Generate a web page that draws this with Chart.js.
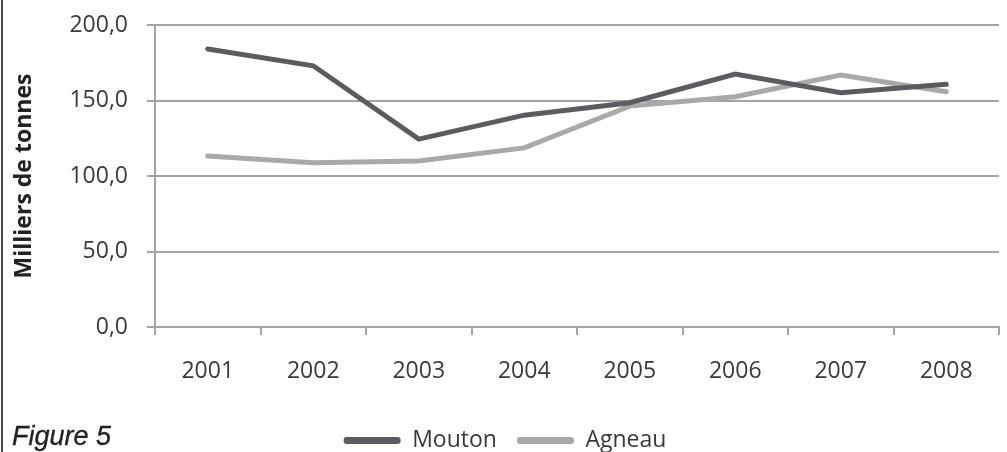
<!DOCTYPE html>
<html>
<head>
<meta charset="utf-8">
<script src="https://cdn.jsdelivr.net/npm/chart.js@4.4.1/dist/chart.umd.min.js"></script>
<style>
  html, body { margin: 0; padding: 0; background: #fff; }
  #wrap { position: relative; width: 1007px; height: 452px; overflow: hidden; }
  #frame { position: absolute; left: 1px; top: 0; width: 2px; height: 452px; background: #4a4a4a; }
  #fig { position: absolute; left: 12px; top: 421px; font-family: "Liberation Sans", Arial, sans-serif; font-style: italic; font-size: 27px; color: #222; line-height: 30px; -webkit-text-stroke: 0.3px #222; }
  canvas { position: absolute; left: 0; top: 0; }
</style>
</head>
<body>
<div id="wrap">
  <canvas id="c" width="1007" height="452"></canvas>
  <div id="frame"></div>
  <div id="fig">Figure 5</div>
</div>
<script>
const years = ['2001', '2002', '2003', '2004', '2005', '2006', '2007', '2008'];
const mouton = [184.1, 173.0, 124.4, 140.3, 148.5, 167.5, 155.2, 160.7];
const agneau = [113.2, 108.7, 110.0, 118.6, 146.3, 152.5, 166.8, 155.8];
const yTickValues = [0, 50, 100, 150, 200];
const yTickLabels = ['0,0', '50,0', '100,0', '150,0', '200,0'];
const yTitle = 'Milliers de tonnes';

Chart.defaults.font.family = '"Open Sans", "Noto Sans", sans-serif';
Chart.defaults.color = '#3a3a3a';

const gridColor = '#a3a3a3';
const FS = 23;

new Chart(document.getElementById('c'), {
  type: 'line',
  data: {
    labels: years,
    datasets: [
      { label: 'Mouton', data: mouton, borderColor: '#5c5c60', backgroundColor: '#5c5c60', borderWidth: 5, pointRadius: 0, tension: 0, borderJoinStyle: 'miter', borderCapStyle: 'round' },
      { label: 'Agneau', data: agneau, borderColor: '#a9a9a9', backgroundColor: '#a9a9a9', borderWidth: 5, pointRadius: 0, tension: 0, borderJoinStyle: 'miter', borderCapStyle: 'round' }
    ]
  },
  options: {
    responsive: false,
    animation: false,
    layout: { padding: { left: 11, right: 8, top: 25, bottom: -10 } },
    plugins: {
      tooltip: { enabled: false },
      legend: {
        position: 'bottom',
        labels: {
          boxWidth: 57,
          boxHeight: 7,
          padding: 20,
          useBorderRadius: true,
          borderRadius: 3,
          color: '#3a3a3a',
          font: { size: FS },
          generateLabels: (chart) => {
            const items = Chart.defaults.plugins.legend.labels.generateLabels(chart);
            items.forEach(it => { it.lineWidth = 0; });
            return items;
          }
        }
      }
    },
    scales: {
      x: {
        offset: true,
        grid: { offset: true, drawOnChartArea: false, drawTicks: true, tickLength: 8, color: gridColor, lineWidth: 2 },
        border: { display: true, color: gridColor, width: 2 },
        ticks: { font: { size: FS }, color: '#3a3a3a', padding: 23, maxRotation: 0 },
        afterFit: (s) => { s.height = 82; s.paddingLeft = 0; s.paddingRight = 0; }
      },
      y: {
        min: 0,
        max: 200,
        afterBuildTicks: (s) => { s.ticks = yTickValues.map(v => ({ value: v })); },
        grid: { drawTicks: true, tickLength: 8, color: gridColor, lineWidth: 2 },
        border: { display: true, color: gridColor, width: 2 },
        ticks: {
          font: { size: FS },
          color: '#3a3a3a',
          padding: 19,
          callback: (v) => yTickLabels[yTickValues.indexOf(v)]
        },
        title: { display: true, text: yTitle, font: { size: FS, weight: 'bold' }, color: '#222', padding: { top: 0, bottom: 0 } },
        afterFit: (s) => { s.width = 155 - 11; s.paddingTop = 0; s.paddingBottom = 0; }
      }
    }
  }
});
</script>
</body>
</html>
